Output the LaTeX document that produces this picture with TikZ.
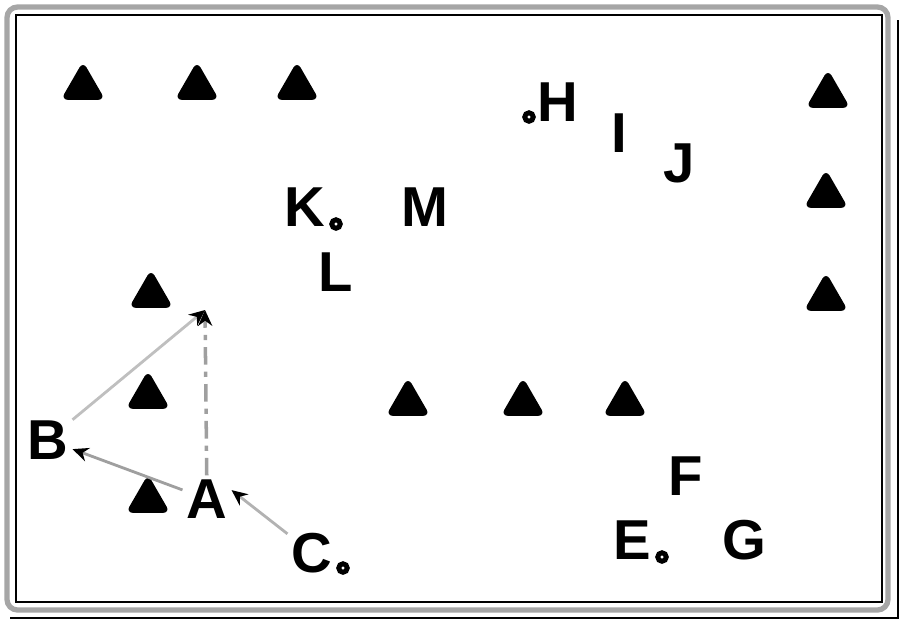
\documentclass[tikz,border=0pt]{standalone}
\usepackage{fontspec}
\setmainfont{Liberation Sans}
\usetikzlibrary{shapes.geometric,arrows.meta}
\begin{document}
\begin{tikzpicture}[x=0.01cm,y=-0.01cm]

%
% Styles
%
\tikzstyle{marker} = [regular polygon,regular polygon sides=3,fill=black,draw=black,line width=0.6pt,rounded corners=1.5pt,minimum size=0.47cm,inner sep=0pt]
\tikzstyle{letter} = [font=\fontsize{16}{18}\selectfont\bfseries,inner sep=1pt]
\tikzstyle{spot}   = [circle,draw=black,fill=white,line width=1.4pt,minimum size=0.085cm,inner sep=0pt]
\tikzstyle{move}   = [-{Stealth[length=4.5pt,width=4pt,color=black]},line width=0.8pt]

\useasboundingbox (0,0) rectangle (900,620);

% frame
\draw[gray!70,line width=1.5pt,rounded corners=3pt] (7,7) rectangle (888,610);
\draw[black,line width=0.7pt] (16,15) rectangle (882,602);
\draw[black,line width=0.5pt] (898,20) -- (898,618) -- (10,618);

% markers
\node[marker] (m1)  at (83,87)   {};
\node[marker] (m2)  at (197,87)  {};
\node[marker] (m3)  at (297,87)  {};
\node[marker] (m4)  at (828,95)  {};
\node[marker] (m5)  at (826,195) {};
\node[marker] (m6)  at (826,298) {};
\node[marker] (m7)  at (151,295) {};
\node[marker] (m8)  at (148,396) {};
\node[marker] (m9)  at (148,500) {};
\node[marker] (m10) at (408,403) {};
\node[marker] (m11) at (523,403) {};
\node[marker] (m12) at (625,403) {};

% letters
\node[letter] (H) at (558,102) {H};
\node[letter] (I) at (619,133) {I};
\node[letter] (J) at (679,163) {J};
\node[letter] (K) at (305,207) {K};
\node[letter] (M) at (425,207) {M};
\node[letter] (L) at (336,272) {L};
\node[letter] (B) at (48,440)  {B};
\node[letter] (A) at (207,499) {A};
\node[letter] (C) at (312,553) {C};
\node[letter] (F) at (686,476) {F};
\node[letter] (E) at (632,540) {E};
\node[letter] (G) at (744,540) {G};

% spots
\node[spot] (h) at (529,117) {};
\node[spot] (k) at (336,224) {};
\node[spot] (c) at (343,568) {};
\node[spot] (e) at (662,557) {};

\coordinate (T) at (205,310);

\draw[move,gray!50] (B) -- (T);
\draw[move,gray!75,line width=1pt,dash pattern=on 5pt off 2pt on 1.5pt off 2pt] (A) -- (T);
\draw[move,gray!75] (A) -- (B);
\draw[move,gray!60] (C) -- (A.20);

\end{tikzpicture}
\end{document}
